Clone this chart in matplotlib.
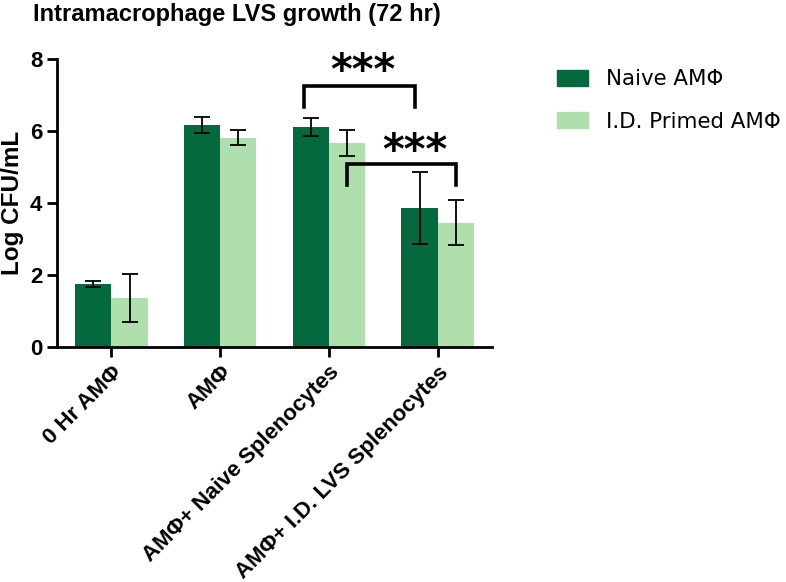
import numpy as np
import matplotlib
matplotlib.use('Agg')
import matplotlib.pyplot as plt
from matplotlib.patches import Patch

categories = ['0 Hr AMΦ', 'AMΦ', 'AMΦ+ Naive Splenocytes', 'AMΦ+ I.D. LVS Splenocytes']
naive_mean = [1.75, 6.17, 6.11, 3.85]
naive_err = [0.09, 0.22, 0.24, 1.00]
primed_mean = [1.37, 5.81, 5.66, 3.45]
primed_err = [0.66, 0.21, 0.36, 0.62]
series_labels = ['Naive AMΦ', 'I.D. Primed AMΦ']

dark = '#05693f'
light = '#aedfad'

plt.rcParams['font.family'] = ['Liberation Sans', 'DejaVu Sans']

fig = plt.figure(figsize=(7.86, 5.82), dpi=100)
ax = fig.add_axes([57 / 786, 1 - 347.3 / 582, (492 - 57) / 786, (347.3 - 58.7) / 582])

x = np.arange(len(categories))
w = 1 / 3
ax.bar(x - w / 2, naive_mean, w, color=dark, yerr=naive_err, capsize=6,
       error_kw=dict(elinewidth=1.3, capthick=1.3, ecolor='black'))
ax.bar(x + w / 2, primed_mean, w, color=light, yerr=primed_err, capsize=6,
       error_kw=dict(elinewidth=1.3, capthick=1.3, ecolor='black'))

ax.set_xlim(-0.5, 3.5)
ax.set_ylim(0, 8)
ax.set_yticks([0, 2, 4, 6, 8])
ax.set_xticks(x)
ax.set_xticklabels(categories, rotation=45, ha='right', rotation_mode='anchor',
                   fontsize=16, fontweight='bold')
for lbl in ax.get_yticklabels():
    lbl.set_fontsize(16)
    lbl.set_fontweight('bold')
ax.set_ylabel('Log CFU/mL', fontsize=17.5, fontweight='bold', labelpad=4)

for s in ['top', 'right']:
    ax.spines[s].set_visible(False)
for s in ['left', 'bottom']:
    ax.spines[s].set_linewidth(2)
ax.tick_params(axis='both', width=2, length=7)

# significance brackets
def bracket(x1, x2, y, h, xstar, ystar):
    ax.plot([x1, x1, x2, x2], [y - h, y, y, y - h], color='black', lw=2.6,
            solid_joinstyle='miter', clip_on=False)
    ax.text(xstar, ystar, '***', ha='center', va='center', fontsize=30,
            fontweight='bold', family='DejaVu Sans', clip_on=False)

bracket(x[2] - w / 2 - 0.06, x[3] - w / 2 - 0.04, 7.23, 0.57, 2.31, 7.62)
bracket(x[2] + w / 2, x[3] + w / 2, 5.08, 0.58, 2.79, 5.4)

fig.text(33 / 786, 1 - 21 / 582, 'Intramacrophage LVS growth (72 hr)', fontsize=17,
         fontweight='bold', ha='left', va='baseline')

handles = [Patch(color=dark), Patch(color=light)]
fig.legend(handles, series_labels, loc='upper left', bbox_to_anchor=(538 / 786, 1 - 50 / 582),
           frameon=False, prop={'family': 'DejaVu Sans', 'size': 15.4},
           handlelength=1.44, handleheight=0.79, labelspacing=1.05, handletextpad=0.85)

fig.savefig('out.png', dpi=100)
